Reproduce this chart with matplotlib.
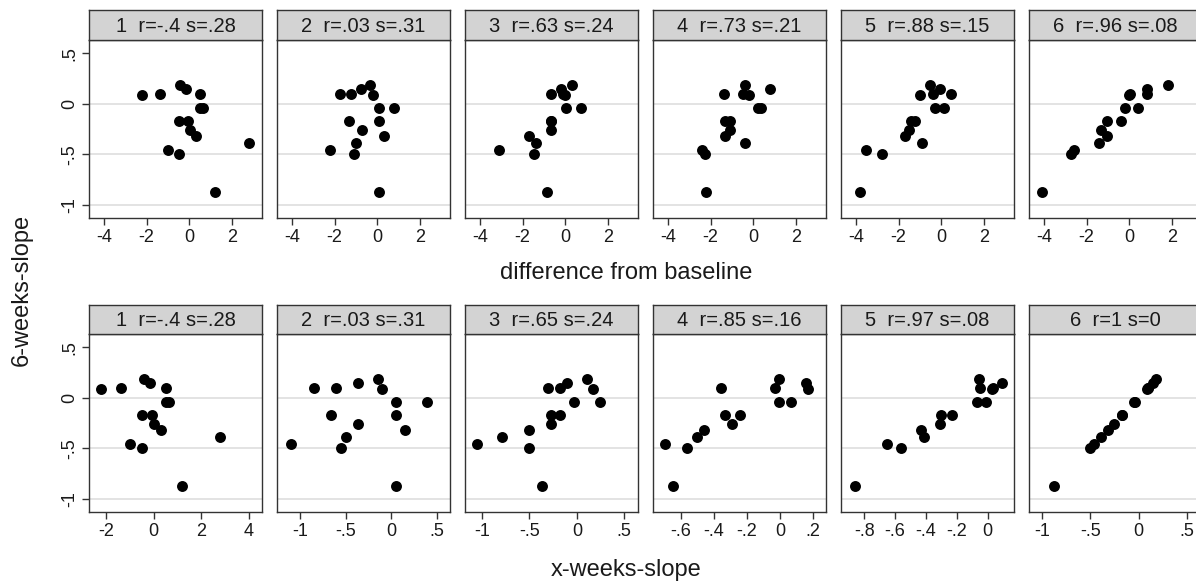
import numpy as np
import matplotlib.pyplot as plt
from matplotlib.ticker import FuncFormatter

# 6-weeks-slope (same y for every panel)
slope6w = [0.184, 0.144, 0.095, 0.095, 0.085, -0.04, -0.046, -0.17, -0.17,
           -0.26, -0.32, -0.39, -0.46, -0.50, -0.875]

# top row: difference from baseline
diff = [
    [-0.42, -0.18, -1.39, 0.50, -2.2, 0.62, 0.52, -0.49, -0.06, 0.02, 0.31, 2.8, -0.98, -0.48, 1.2],
    [-0.33, -0.75, -1.73, -1.22, -0.2, 0.78, 0.06, -1.33, 0.06, -0.70, 0.30, -1.0, -2.22, -1.11, 0.06],
    [0.33, -0.19, -0.66, -0.1, -0.02, 0.72, 0.02, -0.66, -0.68, -0.66, -1.7, -1.39, -3.1, -1.48, -0.88],
    [-0.39, 0.8, -1.39, -0.5, -0.19, 0.36, 0.2, -1.31, -1.08, -1.08, -1.31, -0.39, -2.4, -2.25, -2.22],
    [-0.52, -0.08, -0.41, 0.47, -1.02, 0.11, -0.31, -1.42, -1.22, -1.53, -1.72, -0.91, -3.52, -2.78, -3.8],
    [1.81, 0.81, 0.81, 0.02, 0.0, 0.41, -0.19, -1.06, -0.41, -1.31, -1.06, -1.41, -2.6, -2.72, -4.08],
]
diff_titles = ["1  r=-.4 s=.28", "2  r=.03 s=.31", "3  r=.63 s=.24",
               "4  r=.73 s=.21", "5  r=.88 s=.15", "6  r=.96 s=.08"]

# bottom row: x-weeks-slope
slope = [
    [-0.42, -0.17, -1.37, 0.52, -2.2, 0.66, 0.52, -0.48, -0.07, 0.03, 0.31, 2.8, -0.97, -0.48, 1.2],
    [-0.15, -0.36, -0.85, -0.6, -0.10, 0.39, 0.047, -0.66, 0.047, -0.36, 0.145, -0.50, -1.1, -0.555, 0.047],
    [0.11, -0.10, -0.30, -0.18, 0.175, 0.24, -0.035, -0.27, -0.175, -0.27, -0.5, -0.79, -1.05, -0.5, -0.37],
    [-0.008, 0.16, -0.36, -0.03, 0.17, 0.07, -0.008, -0.33, -0.24, -0.29, -0.46, -0.50, -0.70, -0.565, -0.65],
    [-0.056, 0.09, -0.052, 0.037, 0.03, -0.067, -0.013, -0.30, -0.23, -0.31, -0.43, -0.41, -0.65, -0.56, -0.86],
    slope6w,
]
slope_titles = ["1  r=-.4 s=.28", "2  r=.03 s=.31", "3  r=.65 s=.24",
                "4  r=.85 s=.16", "5  r=.97 s=.08", "6  r=1 s=0"]

top_xlim = (-4.7, 3.4)
top_xticks = [-4, -2, 0, 2]
bot_xlim = [(-2.71, 4.55), (-1.25, 0.64), (-1.18, 0.645), (-0.77, 0.28), (-0.95, 0.17), (-1.134, 0.655)]
bot_xticks = [[-2, 0, 2, 4], [-1, -.5, 0, .5], [-1, -.5, 0, .5],
              [-.6, -.4, -.2, 0, .2], [-.8, -.6, -.4, -.2, 0], [-1, -.5, 0, .5]]
ylim = (-1.13, 0.63)
yticks = [-1, -.5, 0, .5]

plt.rcParams['font.family'] = ['Liberation Sans', 'DejaVu Sans']

W, H = 1196, 584
fig = plt.figure(figsize=(W / 100, H / 100), dpi=100)


def box(l, t, w, h):
    return [l / W, 1 - (t + h) / H, w / W, h / H]


def stata_fmt(v, pos):
    s = f"{v:g}"
    if s.startswith("0."):
        s = s[1:]
    elif s.startswith("-0."):
        s = "-" + s[2:]
    return s


fmt = FuncFormatter(stata_fmt)
txt = "#1a1a1a"

rows = [(diff, diff_titles, 10, 40), (slope, slope_titles, 305, 334)]
for r, (xs, titles, head_top, plot_top) in enumerate(rows):
    plot_h = 178
    for i in range(6):
        left = 89 + i * 188
        ax = fig.add_axes(box(left, plot_top, 173, plot_h))
        for yv in [0, -0.5, -1]:
            ax.axhline(yv, color="#dedede", lw=1.2, zorder=1)
        ax.scatter(xs[i], slope6w, s=62, color="black", zorder=3, linewidths=0)
        ax.set_ylim(ylim)
        if r == 0:
            ax.set_xlim(top_xlim)
            ax.set_xticks(top_xticks)
        else:
            ax.set_xlim(bot_xlim[i])
            ax.set_xticks(bot_xticks[i])
        ax.set_yticks(yticks)
        ax.xaxis.set_major_formatter(fmt)
        ax.yaxis.set_major_formatter(fmt)
        ax.tick_params(axis="both", direction="out", length=5, width=1,
                       color="#333333", labelsize=13, labelcolor=txt, pad=3)
        if i == 0:
            for lab in ax.get_yticklabels():
                lab.set_rotation(90)
                lab.set_va("center")
        else:
            ax.tick_params(axis="y", left=False, labelleft=False)
        for sp in ax.spines.values():
            sp.set_color("#333333")
            sp.set_linewidth(1)

        hx = fig.add_axes(box(left, head_top, 173, plot_top - head_top))
        hx.set_facecolor("#d3d3d3")
        hx.set_xticks([])
        hx.set_yticks([])
        for sp in hx.spines.values():
            sp.set_color("#333333")
            sp.set_linewidth(1)
        hx.text(0.5, 0.45, titles[i], ha="center", va="center", fontsize=14.5,
                color=txt, transform=hx.transAxes)

fig.text(626 / W, 1 - 273 / H, "difference from baseline", ha="center", va="center",
         fontsize=17, color=txt)
fig.text(626 / W, 1 - 570 / H, "x-weeks-slope", ha="center", va="center",
         fontsize=17, color=txt)
fig.text(22 / W, 1 - 290 / H, "6-weeks-slope", ha="center", va="center",
         fontsize=17, rotation=90, color=txt)

fig.savefig("out.png", dpi=100, facecolor="white")
